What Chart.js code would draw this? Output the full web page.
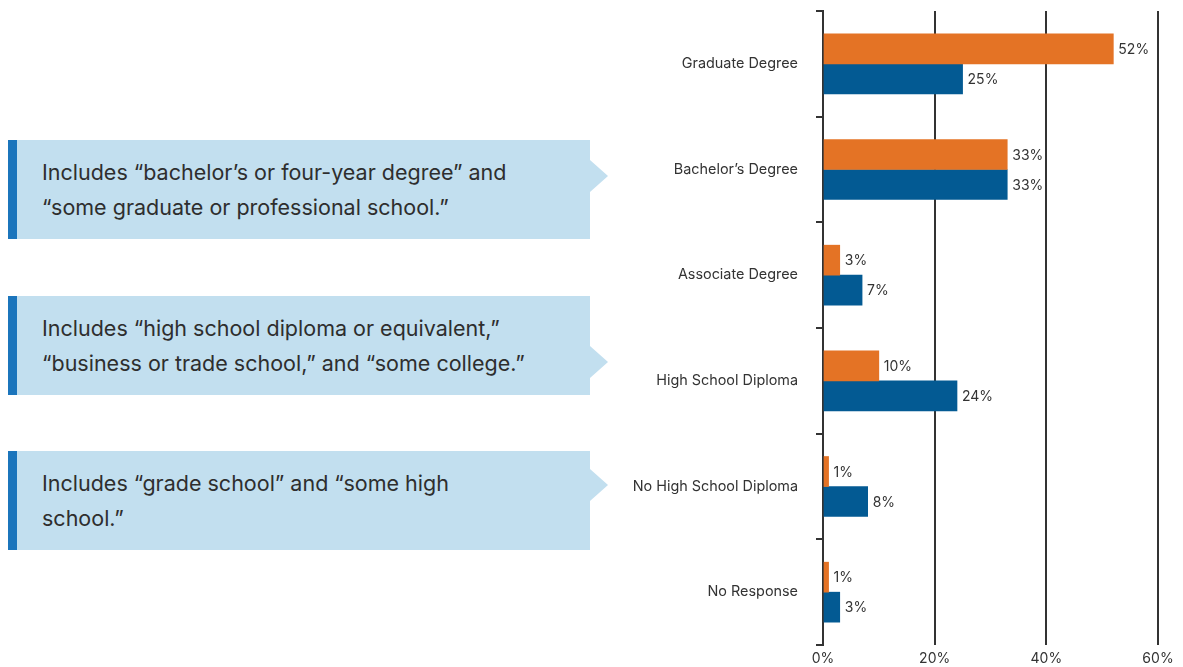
<!DOCTYPE html>
<html>
<head>
<meta charset="utf-8">
<script src="https://cdn.jsdelivr.net/npm/chart.js@4.4.1/dist/chart.umd.min.js"></script>
<style>
  html, body { margin: 0; padding: 0; background: #fff; }
  body { width: 1183px; height: 667px; position: relative; overflow: hidden; font-family: Inter, "Noto Sans", sans-serif; }
  #chartBox { position: absolute; left: 600px; top: 0; width: 583px; height: 667px; }
  .note {
    position: absolute; left: 8px; width: 573px; height: 99px;
    background: #c2dfef; border-left: 9px solid #1b75bc;
    display: flex; align-items: center;
    color: #2e2e2e; font-size: 21.5px; line-height: 35px;
  }
  .note span { padding-left: 25px; white-space: pre; }
  .note .arrow {
    position: absolute; right: -18px; width: 0; height: 0;
    border-left: 18px solid #c2dfef; border-top: 16px solid transparent; border-bottom: 16px solid transparent;
  }
</style>
</head>
<body>
<div id="chartBox"><canvas id="myBarChart1"></canvas></div>
<script>
var labels = ['Graduate Degree', "Bachelor\u2019s Degree", 'Associate Degree', 'High School Diploma', 'No High School Diploma', 'No Response'];
var orangeValues = [52, 33, 3, 10, 1, 1];
var blueValues = [25, 33, 7, 24, 8, 3];
var xTicks = [0, 20, 40, 60];

var notes = [
  ["Includes \u201cbachelor\u2019s or four-year degree\u201d and", "\u201csome graduate or professional school.\u201d"],
  ["Includes \u201chigh school diploma or equivalent,\u201d", "\u201cbusiness or trade school,\u201d and \u201csome college.\u201d"],
  ["Includes \u201cgrade school\u201d and \u201csome high", "school.\u201d"]
];
var noteTops = [140, 296, 451];
var arrowTops = [20, 50, 18];

notes.forEach(function (lines, i) {
  var d = document.createElement('div');
  d.className = 'note';
  d.style.top = noteTops[i] + 'px';
  d.innerHTML = '<span></span><div class="arrow"></div>';
  d.querySelector('span').textContent = lines.join('\n');
  d.querySelector('.arrow').style.top = arrowTops[i] + 'px';
  document.body.appendChild(d);
});

// value labels at the end of each bar
var valueLabels = {
  id: 'valueLabels',
  afterDatasetsDraw: function (chart) {
    var c = chart.ctx;
    c.save();
    c.font = '14px Inter, "Noto Sans", sans-serif';
    c.fillStyle = '#333';
    c.textBaseline = 'middle';
    c.textAlign = 'left';
    chart.data.datasets.forEach(function (ds, i) {
      chart.getDatasetMeta(i).data.forEach(function (bar, j) {
        c.fillText(ds.data[j] + '%', bar.x + 5, bar.y + 1);
      });
    });
    c.restore();
  }
};

var ctx = document.getElementById('myBarChart1');
var myChart = new Chart(ctx, {
  type: 'bar',
  data: {
    labels: labels,
    datasets: [{
      label: 'Orange',
      data: orangeValues,
      backgroundColor: '#e47325',
      barThickness: 30
    }, {
      label: 'Blue',
      data: blueValues,
      backgroundColor: '#035a93',
      barThickness: 30
    }]
  },
  options: {
    indexAxis: 'y',
    responsive: true,
    maintainAspectRatio: false,
    animation: false,
    layout: { padding: { top: 11, right: 25, left: 0, bottom: 0 } },
    plugins: { legend: { display: false }, tooltip: { enabled: false } },
    scales: {
      x: {
        min: 0,
        max: 60,
        afterBuildTicks: function (scale) {
          scale.ticks = xTicks.map(function (v) { return { value: v }; });
        },
        afterFit: function (scale) { scale.height = 22; scale.paddingLeft = 0; scale.paddingRight = 0; },
        grid: { color: '#333', lineWidth: 2, drawTicks: false },
        border: { display: false },
        ticks: {
          padding: 5,
          color: '#333',
          font: { family: 'Inter', size: 14 },
          callback: function (v) { return v + '%'; }
        }
      },
      y: {
        afterFit: function (scale) { scale.width = 223; scale.paddingTop = 0; scale.paddingBottom = 0; },
        grid: { drawOnChartArea: false, offset: true, color: '#333', lineWidth: 2, tickLength: 7 },
        border: { color: '#333', width: 2 },
        ticks: {
          padding: 18,
          color: '#333',
          font: { family: 'Inter', size: 14.4 }
        }
      }
    }
  },
  plugins: [valueLabels]
});
</script>
</body>
</html>
